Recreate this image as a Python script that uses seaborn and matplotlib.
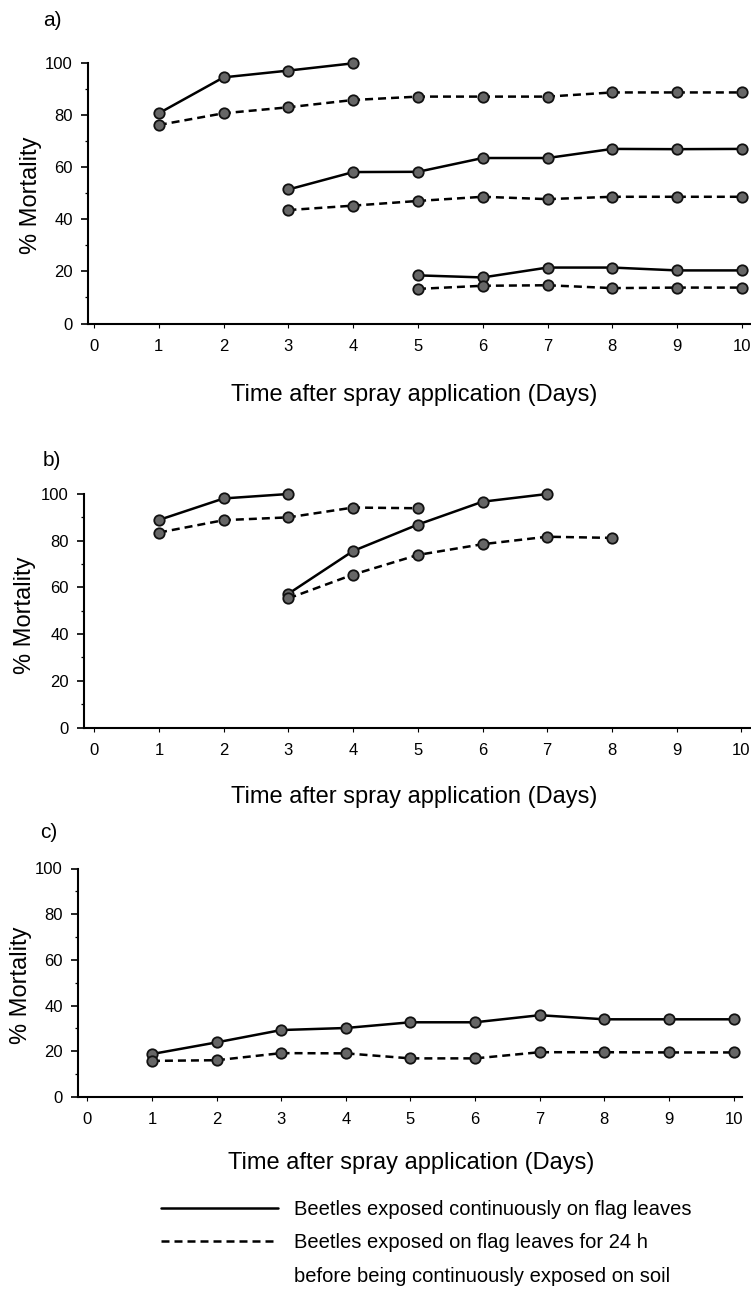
import matplotlib
matplotlib.use("Agg")
import matplotlib.pyplot as plt
from matplotlib.lines import Line2D
from matplotlib.ticker import MultipleLocator
import seaborn as sns
import pandas as pd

# ---------------- data ----------------
# Panel a
a1_days_cont = [1, 2, 3, 4]
a1_cont = [80.8, 94.6, 97.2, 100]
a1_days_soil = [1, 2, 3, 4, 5, 6, 7, 8, 9, 10]
a1_soil = [76.3, 80.8, 83.1, 85.9, 87.2, 87.2, 87.2, 88.8, 88.8, 88.8]
a2_days = [3, 4, 5, 6, 7, 8, 9, 10]
a2_cont = [51.5, 58.2, 58.3, 63.6, 63.6, 67.1, 67.0, 67.1]
a2_soil = [43.6, 45.3, 47.1, 48.7, 47.8, 48.7, 48.7, 48.7]
a3_days = [5, 6, 7, 8, 9, 10]
a3_cont = [18.5, 17.7, 21.5, 21.5, 20.4, 20.4]
a3_soil = [13.3, 14.5, 14.7, 13.6, 13.8, 13.8]
# Panel b
b1_days_cont = [1, 2, 3]
b1_cont = [88.9, 98.1, 100]
b1_days_soil = [1, 2, 3, 4, 5]
b1_soil = [83.5, 88.8, 90.0, 94.2, 93.9]
b2_days_cont = [3, 4, 5, 6, 7]
b2_cont = [57.3, 75.6, 86.9, 96.7, 100]
b2_days_soil = [3, 4, 5, 6, 7, 8]
b2_soil = [55.3, 65.5, 73.9, 78.5, 81.7, 81.2]
# Panel c
c_days = [1, 2, 3, 4, 5, 6, 7, 8, 9, 10]
c_cont = [18.8, 23.9, 29.3, 30.2, 32.7, 32.7, 35.8, 34.0, 34.0, 34.0]
c_soil = [15.8, 16.1, 19.2, 19.1, 16.9, 16.9, 19.6, 19.6, 19.5, 19.5]

x_ticks = list(range(0, 11))
y_ticks = [0, 20, 40, 60, 80, 100]
panel_letters = ["a)", "b)", "c)"]
xlabel = "Time after spray application (Days)"
ylabel = "% Mortality"
legend_labels = ["Beetles exposed continuously on flag leaves",
                 "Beetles exposed on flag leaves for 24 h",
                 "before being continuously exposed on soil"]


def frame(series):
    rows = []
    for grp, expo, days, vals in series:
        for d, v in zip(days, vals):
            rows.append({"group": grp, "exposure": expo, "day": d, "mortality": v})
    return pd.DataFrame(rows)


df_a = frame([
    ("g1c", "cont", a1_days_cont, a1_cont), ("g1s", "soil", a1_days_soil, a1_soil),
    ("g2c", "cont", a2_days, a2_cont), ("g2s", "soil", a2_days, a2_soil),
    ("g3c", "cont", a3_days, a3_cont), ("g3s", "soil", a3_days, a3_soil),
])
df_b = frame([
    ("g1c", "cont", b1_days_cont, b1_cont), ("g1s", "soil", b1_days_soil, b1_soil),
    ("g2c", "cont", b2_days_cont, b2_cont), ("g2s", "soil", b2_days_soil, b2_soil),
])
df_c = frame([
    ("g1c", "cont", c_days, c_cont), ("g1s", "soil", c_days, c_soil),
])

# ---------------- style ----------------
sns.set_theme(style="ticks")
plt.rcParams["font.family"] = ["Liberation Sans", "DejaVu Sans"]
plt.rcParams["axes.linewidth"] = 1.5
plt.rcParams["text.color"] = "black"
plt.rcParams["axes.labelcolor"] = "black"
plt.rcParams["xtick.color"] = "black"
plt.rcParams["ytick.color"] = "black"

W, H = 751, 1289
fig = plt.figure(figsize=(W / 100, H / 100), dpi=100)

# axes rectangles in pixels: left, right, y(0), y(100), xlim
rects = [
    (88, 751, 323.5, 63.3, -0.093, 10.14),
    (84, 751, 727.5, 494.0, -0.16, 10.15),
    (78, 742, 1097.0, 868.5, -0.144, 10.13),
]
letters_pos = [(52, 20), (52, 461), (49, 833)]
xlabel_pos = [(414, 395), (414, 797), (411, 1163)]
ylabel_pos = [(31, 195), (25, 615), (21, 985)]

DASH = (3.2, 2.0)
LW = 1.8

axes = []
for i, (df, (l, r, y0, y100, xmin, xmax)) in enumerate(zip([df_a, df_b, df_c], rects)):
    ax = fig.add_axes([l / W, 1 - y0 / H, (r - l) / W, (y0 - y100) / H])
    axes.append(ax)
    sns.lineplot(data=df, x="day", y="mortality", style="exposure", units="group",
                 estimator=None, color="black", linewidth=LW,
                 dashes={"cont": "", "soil": DASH}, markers={"cont": "o", "soil": "o"},
                 markersize=7.5, markerfacecolor="#666666", markeredgecolor="#111111",
                 markeredgewidth=1.3, clip_on=False, legend=False, ax=ax, sort=True)
    ax.set_xlim(xmin, xmax)
    ax.set_ylim(0, 100)
    ax.set_xticks(x_ticks)
    ax.set_yticks(y_ticks)
    ax.yaxis.set_minor_locator(MultipleLocator(10))
    ax.tick_params(axis="y", which="major", length=5, width=1.2, pad=6, labelsize=12)
    ax.tick_params(axis="y", which="minor", length=2.5, width=0.9)
    ax.tick_params(axis="x", which="major", length=3, width=0.8, pad=8, labelsize=12)
    sns.despine(ax=ax)
    for sp in ("left", "bottom"):
        ax.spines[sp].set_linewidth(1.5)
        ax.spines[sp].set_color("black")
    ax.set_xlabel(xlabel, fontsize=17)
    ax.set_ylabel(ylabel, fontsize=17)
    xl, yl = xlabel_pos[i]
    ax.xaxis.set_label_coords((xl - l) / (r - l), -(yl - y0) / (y0 - y100))
    ax.xaxis.label.set_verticalalignment("center")
    yx, yy = ylabel_pos[i]
    ax.yaxis.set_label_coords((yx - l) / (r - l), (y0 - yy) / (y0 - y100))
    ax.yaxis.label.set_verticalalignment("center")
    ax.yaxis.label.set_horizontalalignment("center")
    lx, ly = letters_pos[i]
    fig.text(lx / W, 1 - ly / H, panel_letters[i], fontsize=15, ha="center", va="center")

# legend
handles = [Line2D([], [], color="black", lw=LW),
           Line2D([], [], color="black", lw=LW, dashes=DASH)]
leg = fig.legend(handles, legend_labels[:2], loc="upper left",
                 bbox_to_anchor=(161 / W, 1 - 1200 / H), frameon=False,
                 fontsize=14.5, handlelength=5.8, handletextpad=0.8,
                 labelspacing=0.7, borderpad=0, borderaxespad=0)
fig.canvas.draw()
x0 = leg.get_texts()[1].get_window_extent().x0
fig.text(x0 / W, 1 - 1277 / H, legend_labels[2], fontsize=14.5, ha="left", va="center")

fig.savefig("out.png", dpi=100)
